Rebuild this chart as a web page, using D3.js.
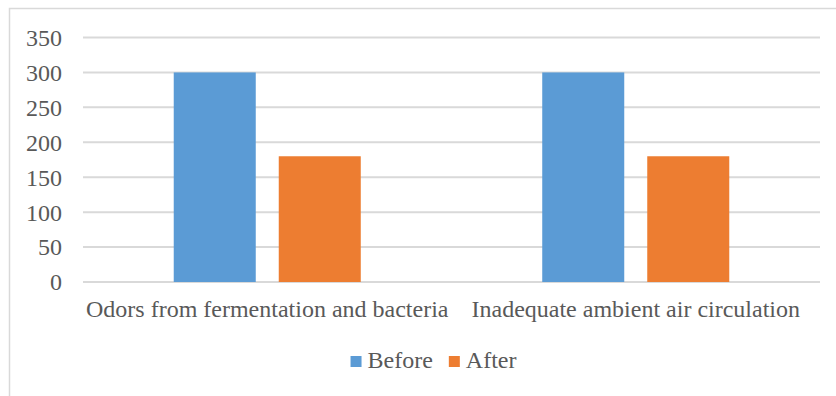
<!DOCTYPE html>
<html>
<head>
<meta charset="utf-8">
<script src="https://cdn.jsdelivr.net/npm/d3@7"></script>
<style>
  html, body { margin: 0; padding: 0; background: #fff; }
  svg { display: block; }
</style>
</head>
<body>
<svg id="chart" width="836" height="396"></svg>
<script>
// Chart data
const categories = ["Odors from fermentation and bacteria", "Inadequate ambient air circulation"];
const seriesNames = ["Before", "After"];
const beforeValues = [300, 300];
const afterValues = [180, 180];
const yTicks = [0, 50, 100, 150, 200, 250, 300, 350];
const seriesColors = ["#5B9BD5", "#ED7D31"];

const FONT = "Liberation Serif";
const FONT_SIZE = 24;
const TEXT_COLOR = "#595959";

const svg = d3.select("#chart");

// Outer chart frame
svg.append("rect")
  .attr("x", 9.5).attr("y", 8.5)
  .attr("width", 840).attr("height", 400)
  .attr("fill", "#fff")
  .attr("stroke", "#d9d9d9").attr("stroke-width", 1.5);

const plot = { left: 83, right: 820, top: 37.5, bottom: 282 };

const x0 = d3.scaleBand()
  .domain(categories)
  .range([plot.left, plot.right])
  .paddingInner(0).paddingOuter(0);

const x1 = d3.scaleBand()
  .domain(seriesNames)
  .range([0, x0.bandwidth()])
  .paddingInner(0.219)
  .paddingOuter(0.864);

const y = d3.scaleLinear().domain([0, 350]).range([plot.bottom, plot.top]);

// Gridlines
svg.append("g")
  .selectAll("line")
  .data(yTicks)
  .join("line")
  .attr("x1", plot.left).attr("x2", plot.right)
  .attr("y1", d => y(d)).attr("y2", d => y(d))
  .attr("stroke", "#d9d9d9").attr("stroke-width", 2);

// Y axis labels
const yAxis = d3.axisLeft(y).tickValues(yTicks).tickSize(0).tickPadding(0);
const yg = svg.append("g").attr("transform", `translate(62,0)`).call(yAxis);
yg.attr("font-family", FONT).attr("font-size", FONT_SIZE);
yg.select(".domain").remove();
yg.selectAll("text")
  .attr("fill", TEXT_COLOR)
  .attr("dy", "0.33em");

// Bars
const rows = categories.map((c, i) => ({ category: c, values: [beforeValues[i], afterValues[i]] }));
const groups = svg.append("g")
  .selectAll("g")
  .data(rows)
  .join("g")
  .attr("transform", d => `translate(${x0(d.category)},0)`);

groups.selectAll("rect")
  .data(d => d.values.map((v, j) => ({ name: seriesNames[j], value: v, color: seriesColors[j] })))
  .join("rect")
  .attr("x", d => x1(d.name))
  .attr("width", x1.bandwidth())
  .attr("y", d => y(d.value))
  .attr("height", d => y(0) - y(d.value))
  .attr("fill", d => d.color);

// Category labels
const xAxis = d3.axisBottom(x0).tickSize(0).tickPadding(0);
const xg = svg.append("g").attr("transform", `translate(0,317)`).call(xAxis);
xg.attr("font-family", FONT).attr("font-size", FONT_SIZE);
xg.select(".domain").remove();
xg.selectAll("text")
  .attr("fill", TEXT_COLOR)
  .attr("y", 0)
  .attr("dy", 0);

// Legend
const legend = svg.append("g");
const items = legend.selectAll("g")
  .data(seriesNames)
  .join("g");
items.append("rect")
  .attr("width", 11).attr("height", 11)
  .attr("y", -12)
  .attr("fill", (d, i) => seriesColors[i]);
items.append("text")
  .attr("x", 17).attr("y", 0)
  .attr("font-family", FONT)
  .attr("font-size", FONT_SIZE)
  .attr("fill", TEXT_COLOR)
  .text(d => d);
let lx = 0;
items.each(function () {
  d3.select(this).attr("transform", `translate(${lx},0)`);
  lx += this.getBBox().width + 16;
});
const legendW = lx - 16;
legend.attr("transform", `translate(${433.5 - legendW / 2},368)`);
</script>
</body>
</html>
